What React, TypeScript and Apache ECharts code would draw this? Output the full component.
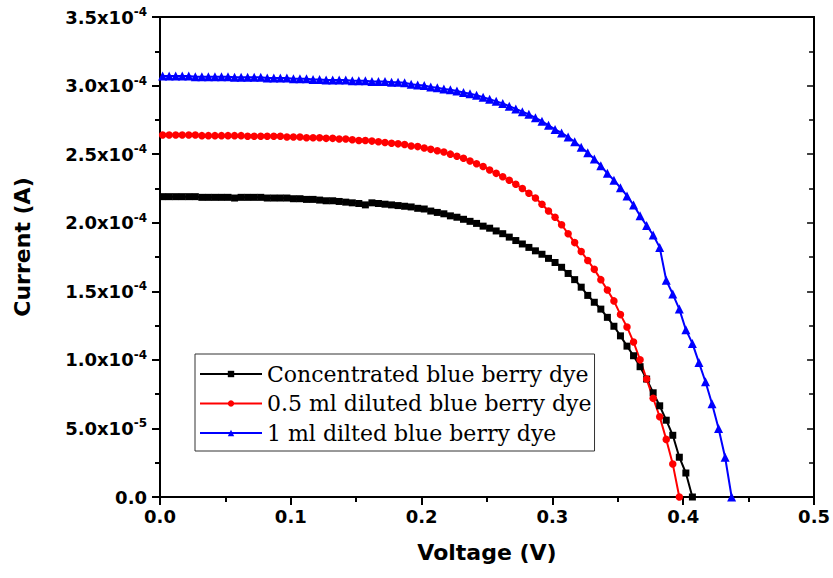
import React, { useEffect, useRef } from "react";
import * as echarts from "echarts";

// Voltage sweep points (V)
const voltage = [
  0.002, 0.007, 0.012, 0.017, 0.022, 0.027, 0.032, 0.037, 0.042, 0.047,
  0.052, 0.057, 0.062, 0.067, 0.072, 0.077, 0.082, 0.087, 0.092, 0.097,
  0.102, 0.107, 0.112, 0.117, 0.122, 0.127, 0.132, 0.137, 0.142, 0.147,
  0.152, 0.157, 0.162, 0.167, 0.172, 0.177, 0.182, 0.187, 0.192, 0.197,
  0.202, 0.207, 0.212, 0.217, 0.222, 0.227, 0.232, 0.237, 0.242, 0.247,
  0.252, 0.257, 0.262, 0.267, 0.272, 0.277, 0.282, 0.287, 0.292, 0.297,
  0.302, 0.307, 0.312, 0.317, 0.322, 0.327, 0.332, 0.337, 0.342, 0.347,
  0.352, 0.357, 0.362, 0.367, 0.372, 0.377, 0.382, 0.387, 0.392, 0.397,
  0.402, 0.407, 0.412, 0.417, 0.422, 0.427, 0.432, 0.437,
];

// Currents in units of 1e-4 A
const concentrated = [
  2.19, 2.19, 2.19, 2.19, 2.19, 2.19, 2.185, 2.185, 2.185, 2.185,
  2.185, 2.18, 2.185, 2.185, 2.185, 2.185, 2.18, 2.18, 2.18, 2.18,
  2.175, 2.175, 2.17, 2.17, 2.165, 2.16, 2.16, 2.155, 2.15, 2.145,
  2.14, 2.13, 2.145, 2.14, 2.135, 2.13, 2.125, 2.12, 2.115, 2.105,
  2.1, 2.085, 2.075, 2.065, 2.05, 2.04, 2.025, 2.01, 1.995, 1.975,
  1.96, 1.94, 1.92, 1.895, 1.87, 1.845, 1.82, 1.795, 1.77, 1.74,
  1.71, 1.675, 1.63, 1.585, 1.53, 1.47, 1.42, 1.37, 1.31, 1.245,
  1.175, 1.1, 1.03, 0.95, 0.86, 0.76, 0.665, 0.56, 0.45, 0.29,
  0.175, 0,
];

const diluted05 = [
  2.64, 2.64, 2.64, 2.64, 2.64, 2.64, 2.635, 2.635, 2.635, 2.635,
  2.635, 2.635, 2.635, 2.63, 2.63, 2.63, 2.63, 2.63, 2.63, 2.625,
  2.625, 2.625, 2.62, 2.62, 2.62, 2.615, 2.615, 2.61, 2.61, 2.605,
  2.6, 2.6, 2.595, 2.59, 2.585, 2.58, 2.575, 2.57, 2.56, 2.555,
  2.545, 2.535, 2.525, 2.515, 2.5, 2.485, 2.47, 2.45, 2.43, 2.41,
  2.385, 2.36, 2.335, 2.31, 2.28, 2.25, 2.215, 2.18, 2.135, 2.085,
  2.04, 1.985, 1.92, 1.855, 1.79, 1.725, 1.66, 1.585, 1.51, 1.43,
  1.33, 1.24, 1.13, 1.0, 0.86, 0.72, 0.585, 0.42, 0.24, 0,
];

const diluted1 = [
  3.07, 3.07, 3.07, 3.07, 3.07, 3.065, 3.065, 3.065, 3.065, 3.065,
  3.065, 3.06, 3.06, 3.06, 3.06, 3.06, 3.055, 3.055, 3.055, 3.055,
  3.05, 3.05, 3.05, 3.045, 3.045, 3.04, 3.04, 3.04, 3.04, 3.035,
  3.035, 3.035, 3.03, 3.03, 3.03, 3.025, 3.025, 3.02, 3.01, 3.005,
  3.0, 2.99, 2.985, 2.975, 2.97, 2.96, 2.95, 2.94, 2.93, 2.915,
  2.9, 2.885, 2.87, 2.85, 2.83, 2.81, 2.79, 2.765, 2.74, 2.71,
  2.68, 2.655, 2.625, 2.59, 2.55, 2.51, 2.465, 2.415, 2.36, 2.31,
  2.255, 2.195, 2.13, 2.05, 1.98, 1.91, 1.82, 1.58, 1.48, 1.37,
  1.22, 1.12, 0.98, 0.84, 0.68, 0.5, 0.29, 0,
];

const seriesNames = [
  "Concentrated blue berry dye",
  "0.5 ml diluted blue berry dye",
  "1 ml dilted blue berry dye",
];

const pair = (vals: number[]) => vals.map((c, i) => [voltage[i], c]);

export default function App() {
  const ref = useRef<HTMLDivElement>(null);
  useEffect(() => {
    if (!ref.current) return;
    const chart = echarts.init(ref.current, undefined, { renderer: "svg" });
    const sans = "DejaVu Sans";
    const axisFont = { fontFamily: sans, fontWeight: "bold" as const, fontSize: 18, color: "#000" };
    const option: any = {
      animation: false,
      backgroundColor: "#fff",
      grid: { left: 160, right: 17, top: 17, bottom: 81, containLabel: false },
      legend: {
        orient: "vertical",
        left: 195,
        top: 354,
        padding: [9, 3, 7, 4],
        itemGap: 7.5,
        itemWidth: 62,
        itemHeight: 8,
        borderColor: "#333",
        borderWidth: 1,
        backgroundColor: "#fff",
        textStyle: { fontFamily: "DejaVu Serif", fontSize: 22, color: "#000" },
        data: seriesNames,
      },
      xAxis: [
        {
          type: "value",
          min: 0,
          max: 0.5,
          interval: 0.1,
          position: "bottom",
          name: "Voltage (V)",
          nameLocation: "middle",
          nameGap: 44,
          nameTextStyle: { fontFamily: sans, fontWeight: "bold", fontSize: 22, color: "#000" },
          axisLine: { show: true, onZero: false, lineStyle: { color: "#000", width: 2 } },
          axisTick: { show: true, inside: false, length: 8, lineStyle: { color: "#000", width: 2 } },
          minorTick: { show: true, splitNumber: 2, length: 5, lineStyle: { color: "#000", width: 2 } },
          axisLabel: { ...axisFont, margin: 10, formatter: (v: number) => v.toFixed(1) },
          splitLine: { show: false },
        },
        {
          type: "value",
          min: 0,
          max: 0.5,
          interval: 0.1,
          position: "top",
          axisLine: { show: true, onZero: false, lineStyle: { color: "#000", width: 2 } },
          axisTick: { show: false },
          minorTick: { show: false },
          axisLabel: { show: false },
          splitLine: { show: false },
        },
      ],
      yAxis: [
        {
          type: "value",
          min: 0,
          max: 3.5,
          interval: 0.5,
          position: "left",
          name: "Current (A)",
          nameLocation: "middle",
          nameGap: 127,
          nameTextStyle: {
            fontFamily: sans,
            fontWeight: "bold",
            fontSize: 22,
            color: "#000",
            padding: [0, 0, 0, 20],
          },
          axisLine: { show: true, onZero: false, lineStyle: { color: "#000", width: 2 } },
          axisTick: { show: true, inside: false, length: 8, lineStyle: { color: "#000", width: 2 } },
          minorTick: { show: true, splitNumber: 2, length: 5, lineStyle: { color: "#000", width: 2 } },
          axisLabel: {
            margin: 13,
            formatter: (v: number) => {
              if (Math.abs(v) < 1e-9) return "{m|0.0}";
              if (Math.abs(v - 0.5) < 1e-9) return "{m|5.0x10}{s|-5}";
              return "{m|" + v.toFixed(1) + "x10}{s|-4}";
            },
            rich: {
              m: { ...axisFont },
              s: { fontFamily: sans, fontWeight: "bold", fontSize: 12, color: "#000", padding: [0, 0, 10, 0] },
            },
          },
          splitLine: { show: false },
        },
        {
          type: "value",
          min: 0,
          max: 3.5,
          interval: 0.5,
          position: "right",
          axisLine: { show: true, onZero: false, lineStyle: { color: "#000", width: 2 } },
          axisTick: { show: true, inside: true, length: 7, lineStyle: { color: "#000", width: 1.5 } },
          minorTick: { show: true, splitNumber: 2, length: 5, lineStyle: { color: "#000", width: 1.5 } },
          axisLabel: { show: false },
          splitLine: { show: false },
        },
      ],
      series: [
        {
          name: seriesNames[0],
          type: "line",
          data: pair(concentrated),
          symbol: "rect",
          symbolSize: 7,
          showAllSymbol: true,
          color: "#000000",
          lineStyle: { width: 2, color: "#000000" },
          itemStyle: { color: "#000000" },
        },
        {
          name: seriesNames[1],
          type: "line",
          data: pair(diluted05),
          symbol: "circle",
          symbolSize: 7.5,
          showAllSymbol: true,
          color: "#ff0000",
          lineStyle: { width: 2, color: "#ff0000" },
          itemStyle: { color: "#ff0000" },
        },
        {
          name: seriesNames[2],
          type: "line",
          data: pair(diluted1),
          symbol: "triangle",
          symbolSize: 9,
          showAllSymbol: true,
          color: "#0000ff",
          lineStyle: { width: 2, color: "#0000ff" },
          itemStyle: { color: "#0000ff" },
        },
      ],
    };
    chart.setOption(option);
    return () => chart.dispose();
  }, []);
  return (
    <div
      ref={ref}
      style={{ position: "fixed", left: 0, top: 0, width: 833, height: 578, background: "#fff" }}
    />
  );
}
